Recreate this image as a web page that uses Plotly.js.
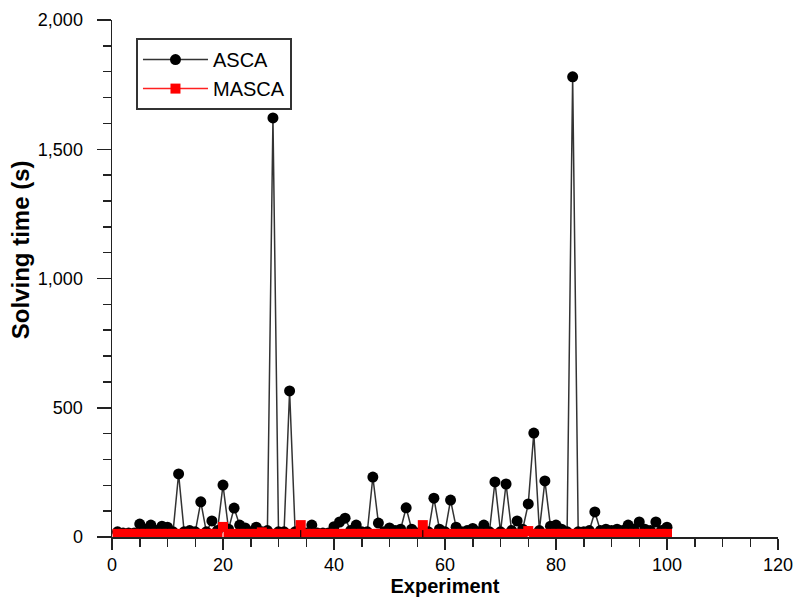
<!DOCTYPE html>
<html>
<head>
<meta charset="utf-8">
<script src="https://cdn.plot.ly/plotly-3.0.1.min.js"></script>
<style>html,body{margin:0;padding:0;background:#fff;}#chart{width:800px;height:603px;}</style>
</head>
<body>
<div id="chart"></div>
<script>
// Experiment numbers 1..100
const experiments = [
  1,2,3,4,5,6,7,8,9,10,11,12,13,14,15,16,17,18,19,20,
  21,22,23,24,25,26,27,28,29,30,31,32,33,34,35,36,37,38,39,40,
  41,42,43,44,45,46,47,48,49,50,51,52,53,54,55,56,57,58,59,60,
  61,62,63,64,65,66,67,68,69,70,71,72,73,74,75,76,77,78,79,80,
  81,82,83,84,85,86,87,88,89,90,91,92,93,94,95,96,97,98,99,100
];
// ASCA solving time (s)
const ascaTime = [
  20,15,15,15,50,30,46,25,42,38,20,244,20,25,20,136,20,62,25,201,
  30,112,46,35,20,38,20,25,1621,20,20,565,20,15,15,46,15,15,15,40,
  58,73,25,46,20,20,232,54,20,35,25,30,113,30,15,15,20,150,30,20,
  143,38,20,25,33,20,46,20,213,20,205,25,62,30,128,402,25,217,42,46,
  30,20,1780,20,20,25,97,25,30,25,30,25,46,30,58,30,25,58,25,38
];
// MASCA solving time (s)
const mascaTime = [
  12,12,12,12,12,12,12,12,12,12,12,12,12,12,12,12,12,12,12,39,
  12,12,12,12,12,12,18,12,12,12,12,12,12,46,12,12,12,12,12,12,
  12,12,12,12,12,12,12,12,12,12,12,12,12,12,12,46,12,12,12,12,
  12,12,12,12,12,12,12,12,12,12,12,12,12,12,23,12,12,12,12,12,
  12,12,12,12,12,12,12,12,12,12,12,12,12,12,12,12,12,12,12,12
];
const seriesNames = ['ASCA', 'MASCA'];
const xTitle = 'Experiment';
const yTitle = 'Solving time (s)';

const font = 'Liberation Sans, Arial, Helvetica, sans-serif';

const traces = [
  {
    x: experiments, y: ascaTime, name: seriesNames[0],
    type: 'scatter', mode: 'lines+markers',
    line: {color: '#333333', width: 1.5},
    marker: {symbol: 'circle', size: 11, color: '#000000'}
  },
  {
    x: experiments, y: mascaTime, name: seriesNames[1],
    type: 'scatter', mode: 'lines+markers',
    line: {color: '#ff2020', width: 1.5},
    marker: {symbol: 'square', size: 10, color: '#ff0000'}
  }
];

const layout = {
  width: 800, height: 603,
  margin: {l: 112, r: 22, t: 20, b: 66},
  paper_bgcolor: '#ffffff', plot_bgcolor: '#ffffff',
  font: {family: font, size: 18, color: '#000'},
  separators: '.,',
  showlegend: true,
  legend: {
    x: 0.036, y: 0.965, xanchor: 'left', yanchor: 'top',
    bordercolor: '#333', borderwidth: 2, bgcolor: '#fff',
    font: {family: font, size: 20, color: '#000'},
    itemwidth: 65,
    tracegroupgap: 0
  },
  xaxis: {
    range: [0, 120], dtick: 20, tick0: 0,
    showgrid: false, zeroline: false,
    showline: true, linecolor: '#222', linewidth: 1.5,
    ticks: 'outside', ticklen: 11, tickwidth: 1.5, tickcolor: '#222',
    minor: {dtick: 5, ticks: 'outside', ticklen: 8, tickwidth: 1.5, tickcolor: '#222', showgrid: false},
    tickfont: {family: font, size: 18},
    title: {text: '<b>' + xTitle + '</b>', font: {family: font, size: 20}, standoff: 4}
  },
  yaxis: {
    range: [0, 2000], dtick: 500, tick0: 0, tickformat: ',d',
    showgrid: false, zeroline: false,
    showline: true, linecolor: '#222', linewidth: 1.5,
    ticks: 'outside', ticklen: 14, tickwidth: 1.5, tickcolor: '#222',
    ticklabelstandoff: 10,
    minor: {dtick: 100, ticks: 'outside', ticklen: 8, tickwidth: 1.5, tickcolor: '#222', showgrid: false},
    tickfont: {family: font, size: 18}
  },
  annotations: [
    {
      text: '<b>' + yTitle + '</b>', textangle: -90,
      xref: 'paper', yref: 'paper',
      x: -0.138, y: 0.555, xanchor: 'center', yanchor: 'middle',
      showarrow: false, font: {family: font, size: 24, color: '#000'}
    }
  ]
};

Plotly.newPlot('chart', traces, layout, {displayModeBar: false, staticPlot: true});
</script>
</body>
</html>
